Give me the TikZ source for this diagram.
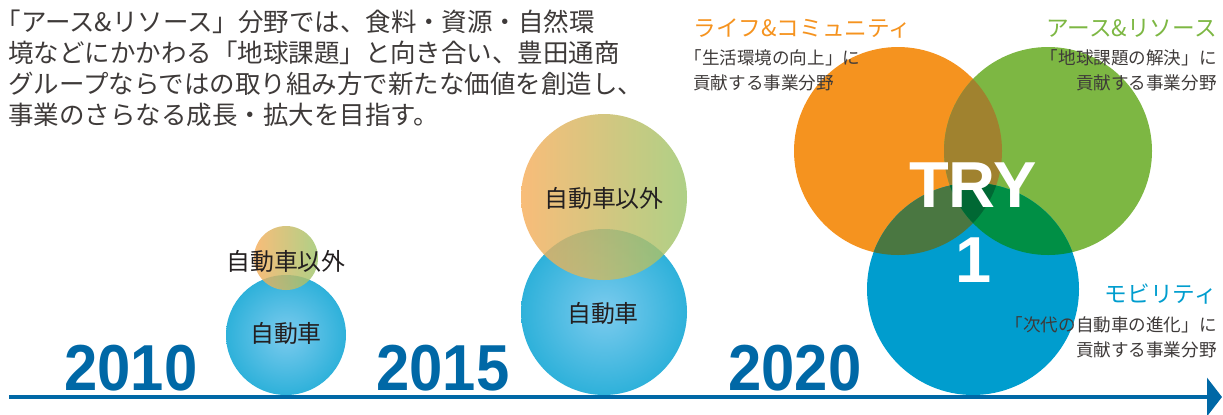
\documentclass[tikz,border=0pt]{standalone}
\usepackage{fontspec}
\setmainfont{Noto Sans CJK JP}
\newfontfamily\yearfont[FakeStretch=0.92]{Liberation Sans}
\newfontfamily\tryfont{Liberation Sans}
\newcommand\halfbr{{\addfontfeatures{RawFeature=+halt}「}}
\usepackage{xcolor}
\usetikzlibrary{arrows.meta}

\begin{document}
\begin{tikzpicture}[x=0.02cm,y=-0.02cm,
  intro/.style={anchor=base west,inner sep=0,text height=0.88em,text depth=0.12em,text=textgray,font=\fontsize{14.5}{17}\selectfont},
  bubbletext/.style={inner sep=0,text=bubblegray,font=\fontsize{13.6}{16}\selectfont},
  fieldtitle/.style={inner sep=0,font=\fontsize{12.9}{15}\selectfont},
  fieldtext/.style={inner sep=0,text=textgray,font=\fontsize{10}{12}\selectfont},
  yearlabel/.style={anchor=base,inner sep=0,text=yearblue,font=\yearfont\bfseries\fontsize{37}{40}\selectfont},
  trylabel/.style={anchor=base,inner sep=0,text=white,font=\tryfont\bfseries\fontsize{37}{40}\selectfont}]
\definecolor{textgray}{HTML}{3E3A39}
\definecolor{bubblegray}{HTML}{231F20}
\definecolor{yearblue}{HTML}{0068A6}
\definecolor{bubbleblue}{HTML}{2EB1DA}
\definecolor{bubblelight}{HTML}{7CCBEE}
\definecolor{otherorange}{HTML}{F7AE5C}
\definecolor{otheryellow}{HTML}{FDE6B0}
\definecolor{othergreen}{HTML}{9DC66C}
\definecolor{lifeorange}{HTML}{F5931F}
\definecolor{earthgreen}{HTML}{7DB743}
\definecolor{mobiblue}{HTML}{009DCE}
\definecolor{lifeearth}{HTML}{A0822F}
\definecolor{lifemobi}{HTML}{4A7741}
\definecolor{earthmobi}{HTML}{008F45}
\definecolor{allthree}{HTML}{006834}
\useasboundingbox (0,0) rectangle (1223,414);

% intro text
\foreach \txt [count=\i] in {\halfbr アース\&リソース」分野では、食料・資源・自然環,
  境などにかかわる「地球課題」と向き合い、豊田通商,
  グループならではの取り組み方で新たな価値を創造し、,
  事業のさらなる成長・拡大を目指す。}
  \node[intro] (intro\i) at (8,{31.5+31*(\i-1)}) {\txt};

% 2010 and 2015 bubbles
\coordinate (car10) at (286,335);
\coordinate (other10) at (286,258);
\coordinate (car15) at (604,312);
\coordinate (other15) at (604,197);
\shade[inner color=bubblelight,outer color=bubbleblue] (car10) circle[radius=60];
\shade[left color=otherorange,middle color=otheryellow,right color=othergreen,fill opacity=0.82] (other10) circle[radius=32];
\shade[inner color=bubblelight,outer color=bubbleblue] (car15) circle[radius=83];
\shade[left color=otherorange,middle color=otheryellow,right color=othergreen,fill opacity=0.82] (other15) circle[radius=83];
\node[bubbletext] (car10text) at (286,333) {自動車};
\node[bubbletext] (other10text) at (286,261) {自動車以外};
\node[bubbletext] (car15text) at (603,313) {自動車};
\node[bubbletext] (other15text) at (604,198) {自動車以外};

% TRY 1
\coordinate (life) at (898,151);
\coordinate (earth) at (1048,151);
\coordinate (mobi) at (973,289);
\fill[lifeorange] (life) circle[radius=104];
\fill[earthgreen] (earth) circle[radius=104];
\fill[mobiblue] (mobi) circle[radius=106];
\begin{scope}
  \clip (life) circle[radius=104];
  \fill[lifeearth] (earth) circle[radius=104];
  \fill[lifemobi] (mobi) circle[radius=106];
\end{scope}
\begin{scope}
  \clip (earth) circle[radius=104];
  \fill[earthmobi] (mobi) circle[radius=106];
  \clip (mobi) circle[radius=106];
  \fill[allthree] (life) circle[radius=104];
\end{scope}
\node[trylabel] (try) at (973,207) {TRY};
\node[trylabel] (tryone) at (974,282) {1};

% field labels
\node[fieldtitle,anchor=base west,text=lifeorange] (lifetitle) at (693,36.5) {ライフ\&コミュニティ};
\node[fieldtext,anchor=base west] (lifeline1) at (693,64.7) {\halfbr 生活環境の向上」に};
\node[fieldtext,anchor=base west] (lifeline2) at (693,89.7) {貢献する事業分野};
\node[fieldtitle,anchor=base east,text=earthgreen] (earthtitle) at (1217,36.5) {アース\&リソース};
\node[fieldtext,anchor=base east] (earthline1) at (1217,64.7) {「地球課題の解決」に};
\node[fieldtext,anchor=base east] (earthline2) at (1217,89.7) {貢献する事業分野};
\node[fieldtitle,anchor=base east,text=mobiblue] (mobititle) at (1217,302.5) {モビリティ};
\node[fieldtext,anchor=base east] (mobiline1) at (1217,331.7) {「次代の自動車の進化」に};
\node[fieldtext,anchor=base east] (mobiline2) at (1217,356.7) {貢献する事業分野};

% time line
\foreach \yr/\xpos in {2010/131,2015/443,2020/795}
  \node[yearlabel] (year\yr) at (\xpos,390) {\yr};
\coordinate (timestart) at (9,397);
\coordinate (timeend) at (1222,397);
\draw[yearblue,line width=2.3pt,-{Triangle[length=8.5pt,width=21.5pt]}] (timestart) -- (timeend);
\end{tikzpicture}
\end{document}
